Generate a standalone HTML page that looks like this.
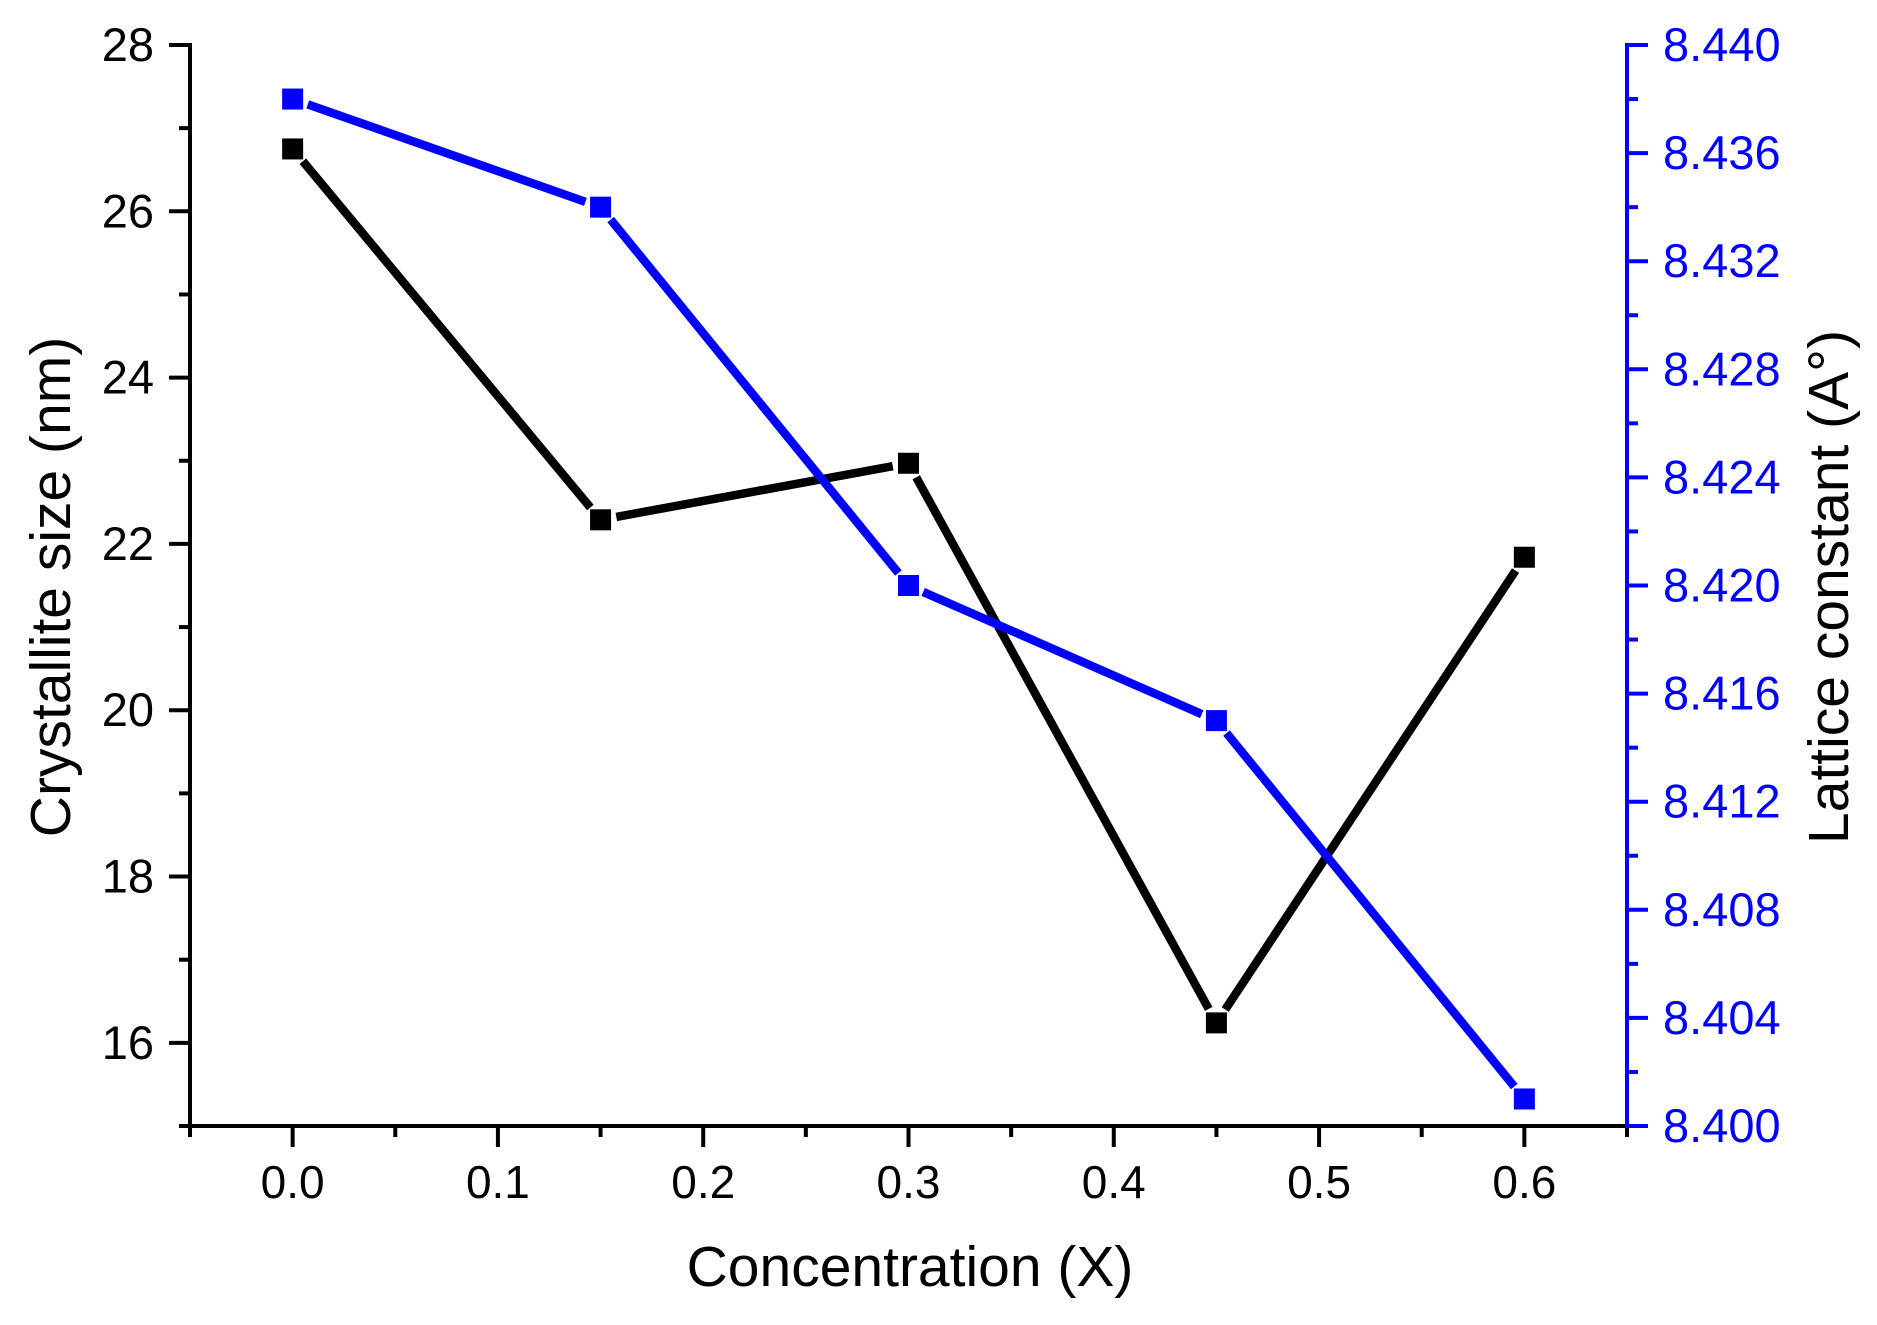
<!DOCTYPE html>
<html><head><meta charset="utf-8"><style>
html,body{margin:0;padding:0;background:#fff;}
svg{display:block;font-family:"Liberation Sans",Arial,sans-serif;}
</style></head><body>
<svg id="chart" width="1877" height="1325" viewBox="0 0 1877 1325" xmlns="http://www.w3.org/2000/svg"></svg>
<script>
const categories = [0.0, 0.15, 0.3, 0.45, 0.6];
const crystalliteSize = [26.75, 22.29, 22.97, 16.24, 21.84];
const latticeConstant = [8.438, 8.434, 8.420, 8.415, 8.401];
const xTicks = ["0.0","0.1","0.2","0.3","0.4","0.5","0.6"];
const leftTicks = ["16","18","20","22","24","26","28"];
const rightTicks = ["8.400","8.404","8.408","8.412","8.416","8.420","8.424","8.428","8.432","8.436","8.440"];

const L=190, R=1627, T=45, B=1126;
const xMin=-0.05, xMax=0.65, yMin=15, yMax=28, rMin=8.400, rMax=8.440;
const sx=v=>L+(v-xMin)/(xMax-xMin)*(R-L);
const sy=v=>B-(v-yMin)/(yMax-yMin)*(B-T);
const sr=v=>B-(v-rMin)/(rMax-rMin)*(B-T);
const svg=document.getElementById('chart');
const NS='http://www.w3.org/2000/svg';
function mk(tag,attrs,parent){const e=document.createElementNS(NS,tag);for(const k in attrs)e.setAttribute(k,attrs[k]);(parent||svg).appendChild(e);return e;}

// X axis
const xg=mk('g',{});


mk('line',{x1:L-3,y1:B,x2:R,y2:B,stroke:'#000','stroke-width':4},xg);
for(let i=0;i<=14;i++){const v=-0.05+i*0.05;const x=sx(v);const major=i%2===1;
  mk('line',{x1:x,y1:B,x2:x,y2:B+(major?21:11),stroke:'#000','stroke-width':4},xg);}
xTicks.forEach(t=>{const tx=mk('text',{x:sx(parseFloat(t)),y:1198,'font-size':46,'text-anchor':'middle',fill:'#000'},xg);tx.textContent=t;
  
  });
const xt=mk('text',{x:910,y:1286,'font-size':57,'text-anchor':'middle',fill:'#000'});
xt.textContent='Concentration (X)';



// Left axis
const lg=mk('g',{});


mk('line',{x1:L,y1:T-2,x2:L,y2:B+2,stroke:'#000','stroke-width':4},lg);
for(let v=15;v<=28;v++){const y=sy(v);const major=v%2===0;
  mk('line',{x1:L,y1:y,x2:L-(major?21:11),y2:y,stroke:'#000','stroke-width':4},lg);}
leftTicks.forEach(t=>{const tx=mk('text',{x:154,y:sy(parseFloat(t))+16,'font-size':47,'text-anchor':'end',fill:'#000'},lg);tx.textContent=t;
  
  });
const lt=mk('text',{x:0,y:0,'font-size':57,'text-anchor':'middle',fill:'#000',transform:'translate(70,587) rotate(-90)'});
lt.textContent='Crystallite size (nm)';



// Right axis
const rg=mk('g',{});


mk('line',{x1:R,y1:T-2,x2:R,y2:B+2,stroke:'#0000ff','stroke-width':4},rg);
for(let i=0;i<=20;i++){const v=8.400+i*0.002;const y=sr(v);const major=i%2===0;
  mk('line',{x1:R,y1:y,x2:R+(major?21:11),y2:y,stroke:'#0000ff','stroke-width':4},rg);}
rightTicks.forEach(t=>{const tx=mk('text',{x:1663,y:sr(parseFloat(t))+16,'font-size':47,'text-anchor':'start',fill:'#0000ff'},rg);tx.textContent=t;
  
  });
const rt=mk('text',{x:0,y:0,'font-size':57,'text-anchor':'middle',fill:'#000',transform:'translate(1848,587) rotate(-90)'});
rt.textContent='Lattice constant (A°)';



// Series
function series(vals,scale,color,name){
  const g=mk('g',{});
  
  
  const pts=categories.map((c,i)=>[sx(c),scale(vals[i])]);
  for(let i=0;i<pts.length-1;i++){
    const [x1,y1]=pts[i],[x2,y2]=pts[i+1];const dx=x2-x1,dy=y2-y1,d=Math.hypot(dx,dy),g2=16;
    const ln=mk('line',{x1:x1+dx/d*g2,y1:y1+dy/d*g2,x2:x2-dx/d*g2,y2:y2-dy/d*g2,stroke:color,'stroke-width':8.5},g);
    
    
  }
  pts.forEach(([x,y])=>{const r=mk('rect',{x:x-10.5,y:y-10.5,width:21,height:21,fill:color},g);
    
    });
}
series(crystalliteSize,sy,'#000','crystallite-size-series');
series(latticeConstant,sr,'#0000ff','lattice-constant-series');
</script>
</body></html>
